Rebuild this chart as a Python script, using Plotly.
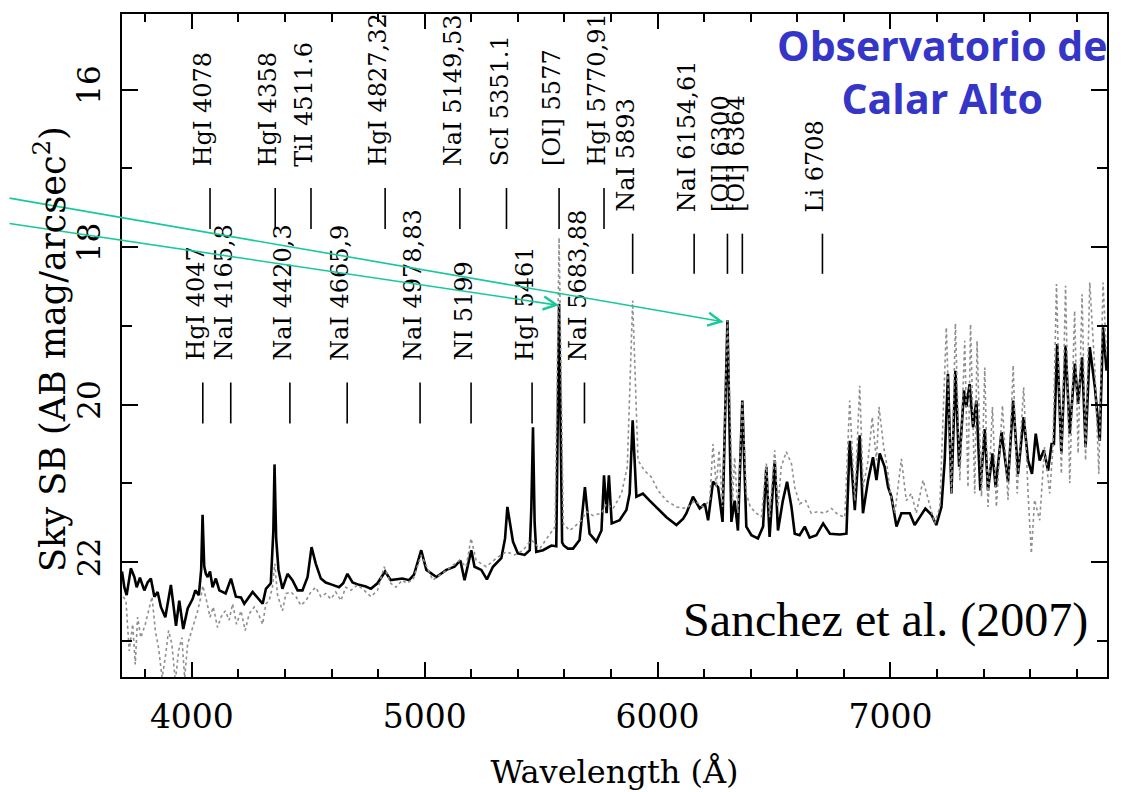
import plotly.graph_objects as go

# ---------------- data ----------------
black_wl = [3700, 3710, 3720, 3738, 3753, 3763, 3777, 3796, 3810, 3824, 3839, 3853, 3867, 3886, 3910,
            3924, 3932, 3946, 3963, 3982, 4003, 4015, 4030, 4040, 4046, 4053, 4060, 4068, 4078, 4089,
            4103, 4118, 4145, 4168, 4189, 4211, 4225, 4261, 4289, 4304, 4318, 4339, 4350, 4355, 4362,
            4372, 4389, 4411, 4432, 4454, 4475, 4497, 4514, 4532, 4554, 4575, 4604, 4632, 4650, 4668,
            4690, 4718, 4747, 4769, 4797, 4830, 4854, 4883, 4904, 4933, 4954, 4985, 5007, 5050, 5093,
            5128, 5153, 5171, 5200, 5214, 5243, 5267, 5293, 5329, 5345, 5355, 5379, 5400, 5429, 5451,
            5458, 5465, 5472, 5479, 5508, 5544, 5565, 5577, 5590, 5597, 5615, 5637, 5665, 5688, 5708,
            5737, 5759, 5770, 5781, 5791, 5803, 5837, 5866, 5880, 5893, 5909, 5937, 5966, 5995, 6038,
            6081, 6110, 6124, 6152, 6181, 6203, 6217, 6238, 6260, 6279, 6300, 6317, 6331, 6345, 6364,
            6381, 6403, 6431, 6453, 6467, 6481, 6503, 6517, 6538, 6556, 6575, 6589, 6610, 6632, 6653,
            6682, 6711, 6740, 6783, 6811, 6825, 6847, 6868, 6882, 6904, 6925, 6940, 6954, 6975, 6990,
            7004, 7026, 7047, 7083, 7104, 7126, 7150, 7176, 7197, 7219, 7233, 7247, 7262, 7279, 7295,
            7316, 7326, 7340, 7355, 7369, 7386, 7405, 7419, 7438, 7452, 7477, 7505, 7527, 7548, 7572,
            7591, 7608, 7624, 7641, 7659, 7677, 7692, 7702, 7716, 7734, 7752, 7770, 7792, 7806, 7823,
            7838, 7856, 7878, 7899, 7913, 7928]
black_mag = [22.12, 22.32, 22.42, 22.08, 22.19, 22.32, 22.20, 22.36, 22.26, 22.21, 22.44, 22.38, 22.57, 22.70, 22.29,
             22.66, 22.81, 22.49, 22.85, 22.59, 22.47, 22.36, 22.42, 22.10, 21.40, 22.05, 22.15, 22.19, 22.12, 22.32,
             22.21, 22.36, 22.40, 22.21, 22.44, 22.45, 22.53, 22.38, 22.47, 22.53, 22.34, 22.27, 21.60, 20.76, 21.70,
             22.10, 22.34, 22.15, 22.23, 22.36, 22.36, 22.19, 21.81, 22.02, 22.21, 22.26, 22.29, 22.32, 22.27, 22.15,
             22.26, 22.29, 22.31, 22.34, 22.27, 22.12, 22.23, 22.22, 22.21, 22.23, 22.16, 21.85, 22.10, 22.19, 22.10,
             22.06, 21.98, 22.23, 21.85, 22.06, 22.10, 22.22, 22.06, 21.95, 21.70, 21.30, 21.74, 21.89, 21.91, 21.85,
             21.30, 20.29, 21.50, 21.87, 21.85, 21.79, 21.80, 18.72, 21.75, 21.79, 21.83, 21.83, 21.72, 21.05, 21.64,
             21.74, 21.60, 20.90, 21.38, 20.90, 21.51, 21.47, 21.34, 21.13, 20.20, 21.17, 21.13, 21.22, 21.30, 21.43,
             21.53, 21.45, 21.38, 21.17, 21.32, 21.26, 21.47, 20.98, 21.05, 21.49, 18.93, 21.49, 21.22, 21.60, 19.95,
             21.55, 21.66, 21.70, 21.55, 20.79, 21.68, 20.71, 21.60, 21.22, 20.98, 21.30, 21.64, 21.66, 21.55, 21.69,
             21.66, 21.51, 21.64, 21.65, 21.64, 20.46, 21.34, 20.39, 21.38, 20.96, 20.67, 20.96, 20.62, 20.79, 21.05,
             21.17, 21.55, 21.38, 21.38, 21.53, 21.43, 21.32, 21.40, 21.53, 21.30, 20.71, 19.61, 21.13, 19.57, 20.79,
             19.82, 20.03, 19.74, 20.29, 19.95, 21.09, 20.31, 21.09, 20.62, 21.05, 20.35, 20.98, 19.95, 20.88, 20.16,
             20.71, 20.88, 20.37, 20.71, 20.58, 20.84, 20.50, 20.50, 19.23, 20.62, 19.25, 20.37, 19.48, 19.99, 19.40,
             20.54, 19.27, 19.78, 20.46, 19.02, 19.57]

gray_wl = [3705, 3717, 3731, 3746, 3757, 3767, 3781, 3800, 3814, 3829, 3843, 3857, 3872, 3886, 3900,
           3914, 3929, 3943, 3957, 3969, 3982, 3996, 4010, 4025, 4039, 4047, 4063, 4078, 4092, 4110,
           4125, 4143, 4160, 4175, 4192, 4211, 4229, 4246, 4268, 4286, 4304, 4318, 4332, 4346, 4356,
           4368, 4389, 4404, 4425, 4447, 4468, 4490, 4511, 4532, 4554, 4575, 4597, 4618, 4640, 4661,
           4683, 4711, 4740, 4769, 4797, 4826, 4854, 4876, 4904, 4921, 4950, 4985, 5035, 5093, 5150,
           5178, 5199, 5221, 5264, 5308, 5350, 5386, 5422, 5458, 5494, 5529, 5560, 5577, 5595, 5622,
           5644, 5673, 5694, 5723, 5759, 5780, 5809, 5845, 5870, 5893, 5916, 5944, 5973, 6002, 6038,
           6081, 6124, 6159, 6195, 6224, 6238, 6252, 6264, 6279, 6300, 6322, 6331, 6345, 6364, 6381,
           6398, 6424, 6446, 6467, 6481, 6503, 6517, 6531, 6553, 6575, 6589, 6610, 6636, 6660, 6689,
           6718, 6747, 6775, 6804, 6825, 6847, 6868, 6883, 6904, 6922, 6940, 6951, 6971, 6986, 7000,
           7019, 7047, 7068, 7090, 7111, 7140, 7162, 7190, 7212, 7240, 7262, 7279, 7298, 7319, 7333,
           7344, 7362, 7372, 7391, 7405, 7419, 7438, 7455, 7481, 7505, 7527, 7544, 7572, 7591, 7605,
           7619, 7641, 7662, 7684, 7698, 7713, 7734, 7752, 7770, 7791, 7806, 7823, 7838, 7856, 7878,
           7895, 7913, 7928]
gray_mag = [22.44, 22.49, 23.13, 22.79, 23.30, 22.70, 22.96, 22.79, 22.62, 22.44, 22.87, 23.09, 23.47, 23.21, 22.87,
            23.04, 23.51, 23.13, 22.96, 23.47, 23.04, 22.91, 22.79, 22.62, 22.44, 22.30, 22.49, 22.70, 22.57, 22.83,
            22.70, 22.62, 22.74, 22.53, 22.79, 22.62, 22.87, 22.66, 22.57, 22.66, 22.79, 22.53, 22.49, 22.32, 22.02,
            22.42, 22.62, 22.40, 22.38, 22.44, 22.55, 22.49, 22.38, 22.32, 22.44, 22.40, 22.47, 22.38, 22.49, 22.32,
            22.36, 22.29, 22.36, 22.44, 22.36, 22.06, 22.27, 22.32, 22.23, 22.27, 22.22, 21.91, 22.23, 22.10, 21.98,
            22.06, 21.70, 21.98, 22.06, 21.95, 21.87, 21.91, 21.85, 21.72, 21.83, 21.68, 21.55, 17.88, 21.51, 21.60,
            21.55, 21.47, 21.36, 21.41, 21.38, 21.26, 21.32, 21.13, 20.79, 18.68, 20.71, 20.84, 20.92, 21.09, 21.22,
            21.30, 21.32, 21.22, 21.30, 21.22, 20.50, 21.05, 20.58, 21.30, 18.93, 21.22, 20.67, 21.38, 19.95, 21.13,
            21.30, 21.38, 21.43, 20.75, 21.43, 20.58, 21.30, 20.79, 20.60, 20.75, 21.05, 21.26, 21.22, 21.38, 21.36,
            21.38, 21.32, 21.40, 21.43, 19.95, 21.22, 19.76, 21.05, 20.71, 20.16, 20.71, 20.03, 20.54, 20.79, 21.13,
            21.38, 20.69, 21.22, 21.13, 21.38, 20.96, 21.21, 21.51, 21.30, 19.02, 21.13, 18.97, 20.96, 19.19, 21.05,
            18.98, 21.13, 19.19, 21.17, 19.53, 21.30, 20.03, 21.30, 20.01, 21.21, 19.50, 21.13, 19.78, 21.13, 21.89,
            21.21, 21.47, 20.54, 21.13, 20.54, 18.47, 20.88, 18.49, 21.00, 18.81, 20.62, 18.60, 20.71, 18.45, 19.57,
            20.88, 18.45, 19.40]

# emission line identifications
lower_wl = [4047, 4167, 4421, 4667, 4980, 5199, 5461, 5686]
lower_lbl = ["HgI 4047", "NaI 4165,8", "NaI 4420,3", "NaI 4665,9", "NaI 4978,83",
             "NI 5199", "HgI 5461", "NaI 5683,88"]
upper_wl = [4078, 4358, 4511.6, 4830, 5151, 5351.1, 5577, 5770]
upper_lbl = ["HgI 4078", "HgI 4358", "TiI 4511.6", "HgI 4827,32", "NaI 5149,53",
             "ScI 5351.1", "[OI] 5577", "HgI 5770,91"]
red_wl = [5893, 6157, 6300, 6364, 6708]
red_lbl = ["NaI 5893", "NaI 6154,61", "[OI] 6300", "[OI] 6364", "Li 6708"]

# arrows pointing at the two [OI] lines
arrow_wl = [5577, 6284]
arrow_mag = [18.74, 18.95]

x_ticks = [4000, 5000, 6000, 7000]
y_ticks = [16, 18, 20, 22]

# ---------------- styling ----------------
SERIF = "DejaVu Serif"
rows = [  # (wavelengths, labels, line top, line bottom, label bottom)
    (lower_wl, lower_lbl, 19.72, 20.24, 19.47),
    (upper_wl, upper_lbl, 17.25, 17.77, 17.00),
    (red_wl, red_lbl, 17.83, 18.34, 17.58),
]

fig = go.Figure()
fig.add_trace(go.Scatter(x=black_wl, y=black_mag, mode="lines",
                         line=dict(color="black", width=2.6), hoverinfo="skip"))
fig.add_trace(go.Scatter(x=gray_wl, y=gray_mag, mode="lines",
                         line=dict(color="#8f8f8f", width=1.6, dash="dot"), hoverinfo="skip"))

annotations = []
for wls, lbls, ytop, ybot, ylab in rows:
    xs, ys = [], []
    for w in wls:
        xs += [w, w, None]
        ys += [ytop, ybot, None]
    fig.add_trace(go.Scatter(x=xs, y=ys, mode="lines",
                             line=dict(color="black", width=1.6), hoverinfo="skip"))
    for w, t in zip(wls, lbls):
        annotations.append(dict(x=w, y=ylab, xref="x", yref="y", text=t, showarrow=False,
                                textangle=-90, xanchor="center", yanchor="bottom", xshift=-7,
                                font=dict(family=SERIF, size=24, color="black")))

# arrows (tails start left of the frame)
tails = [(-557, -82), (-724, -124)]
for w, m, (ax, ay) in zip(arrow_wl, arrow_mag, tails):
    annotations.append(dict(x=w, y=m, xref="x", yref="y", text="", showarrow=True,
                            ax=ax, ay=ay, arrowhead=5, arrowsize=1.6, arrowwidth=1.6,
                            arrowcolor="#17c99a"))

annotations.append(dict(x=0.8325, y=0.998, xref="paper", yref="paper",
                        text="<b>Observatorio de<br>Calar Alto</b>", showarrow=False,
                        xanchor="center", yanchor="top", align="center",
                        font=dict(family="Open Sans", size=41, color="#3535c8")))
annotations.append(dict(x=0.9828, y=22.73, xref="paper", yref="y",
                        text="Sanchez et al. (2007)", showarrow=False,
                        xanchor="right", yanchor="middle",
                        font=dict(family="Liberation Serif", size=48, color="black")))
# y-axis title (placed as an annotation for exact position)
annotations.append(dict(x=-0.073, y=0.495, xref="paper", yref="paper",
                        text="Sky SB (AB mag/arcsec<sup>2</sup>)", showarrow=False,
                        textangle=-90, xanchor="center", yanchor="middle",
                        font=dict(family=SERIF, size=35, color="black")))

# the page body adds an 8 px offset, so the figure is 8 px smaller than the window
fig.update_layout(
    width=1116, height=784,
    margin=dict(l=114, r=17, t=4, b=115),
    paper_bgcolor="white", plot_bgcolor="white",
    showlegend=False,
    annotations=annotations,
    font=dict(family=SERIF, size=30, color="black"),
)
fig.update_xaxes(range=[3700, 7930], tickvals=x_ticks, ticktext=[str(v) for v in x_ticks],
                 ticks="inside", ticklen=15, tickwidth=1.6, tickcolor="black",
                 minor=dict(dtick=200, tick0=0, ticks="inside", ticklen=8, tickwidth=1.6, tickcolor="black"),
                 showline=True, linecolor="black", linewidth=2, mirror="allticks",
                 showgrid=False, zeroline=False, ticklabelstandoff=9,
                 tickfont=dict(family=SERIF, size=33),
                 title=dict(text="Wavelength (Å)", font=dict(family=SERIF, size=32), standoff=26))
fig.update_yaxes(range=[23.46, 15.04], tickvals=y_ticks, ticktext=[str(v) for v in y_ticks],
                 ticks="inside", ticklen=16, tickwidth=1.6, tickcolor="black", tickangle=-90,
                 minor=dict(dtick=1, tick0=0, ticks="inside", ticklen=10, tickwidth=1.6, tickcolor="black"),
                 showline=True, linecolor="black", linewidth=2, mirror="allticks",
                 showgrid=False, zeroline=False, ticklabelstandoff=8,
                 tickfont=dict(family=SERIF, size=31))

fig.write_html("out.html")
